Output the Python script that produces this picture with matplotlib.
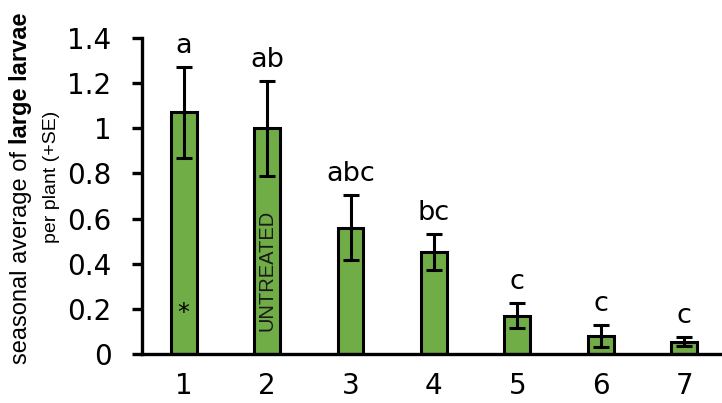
import matplotlib.pyplot as plt
from matplotlib import font_manager
from matplotlib.ticker import FuncFormatter

plt.rcParams['font.family'] = ['Liberation Sans', 'DejaVu Sans']

# data
treatments = ['1', '2', '3', '4', '5', '6', '7']
means = [1.07, 1.00, 0.56, 0.45, 0.17, 0.08, 0.055]
se = [0.20, 0.21, 0.145, 0.08, 0.055, 0.048, 0.02]
letters = ['a', 'ab', 'abc', 'bc', 'c', 'c', 'c']

bar_color = '#70AD47'
wide_font = 'DejaVu Sans'   # reference text looks stretched sideways


def arial_like(weight, size):
    # pick the regular-width Liberation Sans file, not the Narrow one
    for f in font_manager.fontManager.ttflist:
        if f.name == 'Liberation Sans' and f.style == 'normal' and f.weight == weight:
            return font_manager.FontProperties(fname=f.fname, size=size)
    return font_manager.FontProperties(family='Liberation Sans', weight=weight, size=size)


fig = plt.figure(figsize=(7.22, 4.03), dpi=100)
ax = fig.add_axes([142 / 722, 49 / 403, 7 * 83.4 / 722, 316 / 403])

x = list(range(1, len(treatments) + 1))
ax.bar(x, means, width=0.31, color=bar_color, edgecolor='black', linewidth=2.2, zorder=2)
ax.errorbar(x, means, yerr=se, fmt='none', ecolor='black', elinewidth=2.2,
            capsize=5.5, capthick=2.2, zorder=3)

# significance letters above the error bars
for xi, m, s, lab in zip(x, means, se, letters):
    ax.text(xi, m + s + 0.063, lab, ha='center', va='baseline',
            fontsize=19.5, family=wide_font)

# annotations inside bars 1 and 2
ax.text(1, 0.15, '*', ha='center', va='baseline', fontsize=17, family=wide_font)
ax.text(2, 0.37, 'UNTREATED', ha='center', va='center', rotation=90,
        fontproperties=arial_like(400, 14.5), color='#1a1a1a')

ax.set_xlim(0.5, 7.5)
ax.set_ylim(0, 1.4)
ax.set_yticks([0, 0.2, 0.4, 0.6, 0.8, 1.0, 1.2, 1.4])
ax.yaxis.set_major_formatter(FuncFormatter(lambda v, p: f'{v:g}'))
ax.set_xticks(x)
ax.set_xticklabels(treatments)
for lab in ax.get_xticklabels() + ax.get_yticklabels():
    lab.set_family(wide_font)

for side in ['top', 'right']:
    ax.spines[side].set_visible(False)
for side in ['left', 'bottom']:
    ax.spines[side].set_linewidth(2.4)
ax.tick_params(axis='y', direction='out', length=7, width=2.4, labelsize=20, pad=15)
ax.tick_params(axis='x', length=0, labelsize=20, pad=13)

# two-line y label, with "large larvae" in bold
t1 = fig.text(27 / 722, 1 - 364 / 403, 'seasonal average of ', rotation=90,
              rotation_mode='anchor', ha='left', va='baseline',
              fontproperties=arial_like(400, 17))
ax.annotate('large larvae', xy=(27 / 722, 1.0), xycoords=('figure fraction', t1),
            rotation=90, rotation_mode='anchor', ha='left', va='baseline',
            fontproperties=arial_like(700, 17), annotation_clip=False)
fig.text(56 / 722, 1 - 176.5 / 403, 'per plant (+SE)', rotation=90,
         rotation_mode='anchor', ha='center', va='baseline',
         fontproperties=arial_like(400, 14))

fig.savefig('out.png', dpi=100)
